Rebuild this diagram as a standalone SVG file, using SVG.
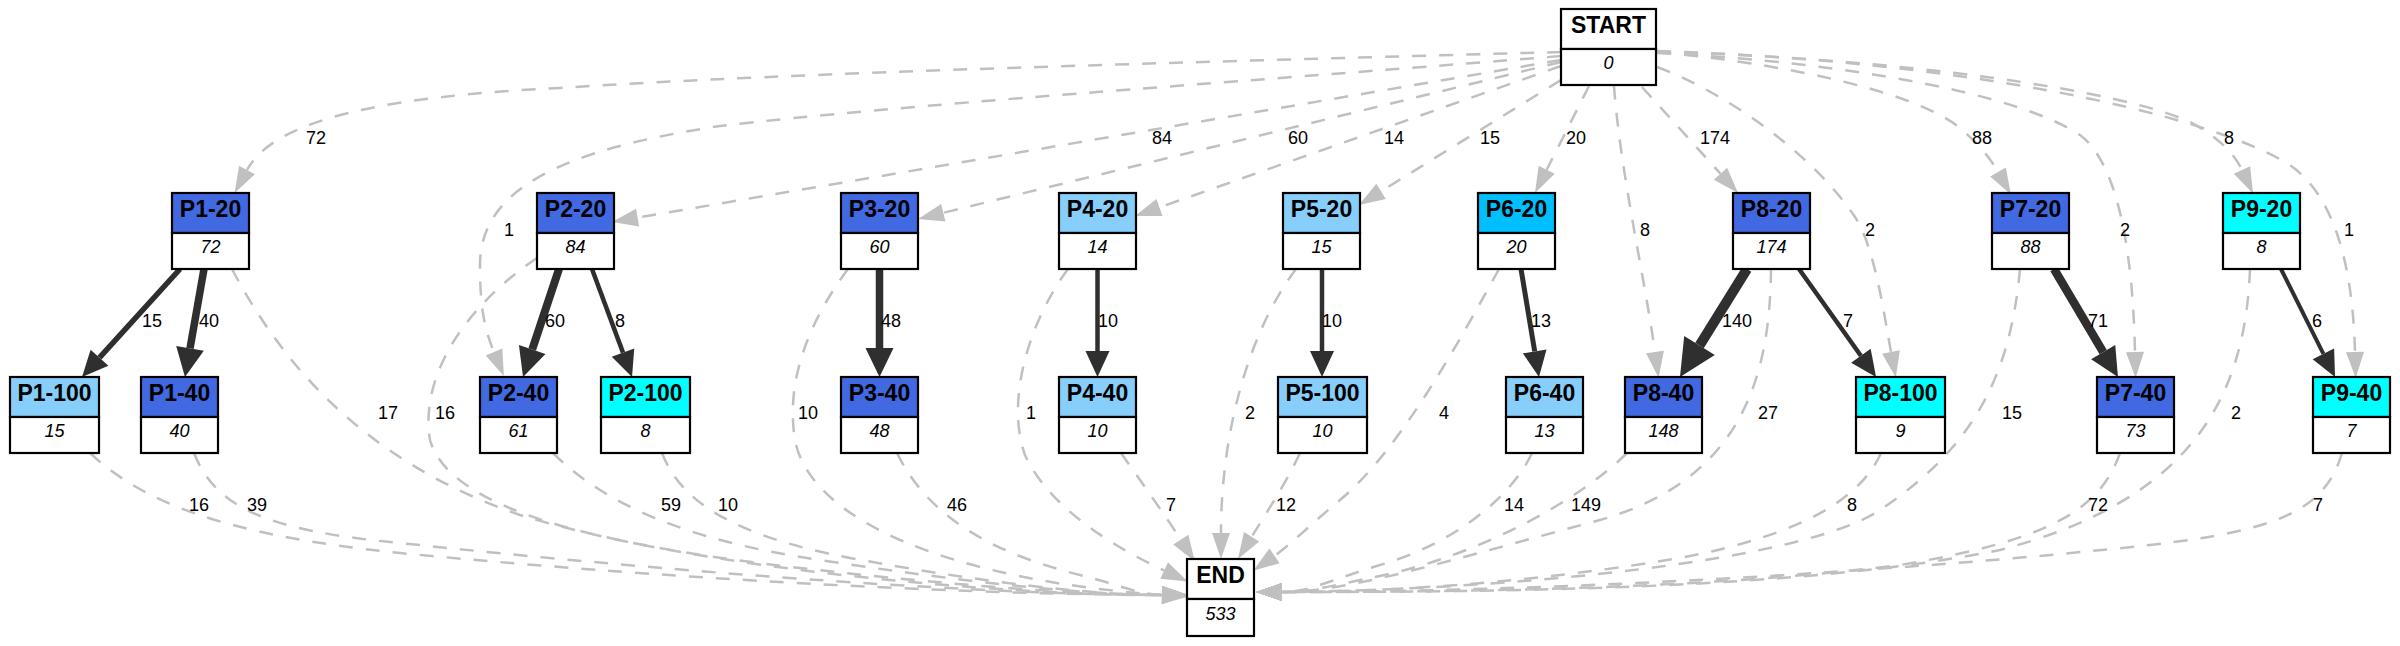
<svg xmlns="http://www.w3.org/2000/svg" width="2400" height="646" viewBox="0 0 2400 646">
<style>
.e{fill:none;stroke:#c0c0c0;stroke-width:2.5;stroke-dasharray:14,13}
.d{fill:none;stroke:#2f2f2f}
.lbl{font-family:"Liberation Sans",Arial,sans-serif;font-size:18px;fill:#000;text-anchor:middle}
.box{stroke:#000;stroke-width:2.2}
.val{fill:#fff;stroke:#000;stroke-width:2.2}
.tt{font-family:"Liberation Sans",Arial,sans-serif;font-size:23px;font-weight:bold;fill:#000;text-anchor:middle}
.tv{font-family:"Liberation Sans",Arial,sans-serif;font-size:18px;font-style:italic;fill:#000;text-anchor:middle}
</style>
<defs>
<marker id="ag" markerUnits="userSpaceOnUse" markerWidth="40" markerHeight="40" refX="0" refY="0" orient="auto" overflow="visible"><path d="M0,-9 L26,0 L0,9 z" fill="#c0c0c0"/></marker>
<marker id="d1" markerUnits="userSpaceOnUse" markerWidth="40" markerHeight="40" refX="0" refY="0" orient="auto" overflow="visible"><path d="M0,-12 L26,0 L0,12 z" fill="#2f2f2f"/></marker>
<marker id="d2" markerUnits="userSpaceOnUse" markerWidth="40" markerHeight="40" refX="0" refY="0" orient="auto" overflow="visible"><path d="M0,-14 L29,0 L0,14 z" fill="#2f2f2f"/></marker>
<marker id="d3" markerUnits="userSpaceOnUse" markerWidth="50" markerHeight="50" refX="0" refY="0" orient="auto" overflow="visible"><path d="M0,-18 L37,0 L0,18 z" fill="#2f2f2f"/></marker>
</defs>
<rect x="0" y="0" width="2400" height="646" fill="#fff"/>
<g id="connectors">
<!-- START edges -->
<path class="e" marker-end="url(#ag)" d="M1561,52 C1200,62 800,72 560,88 C390,96 275,118 247,170"/>
<path class="e" marker-end="url(#ag)" d="M1561,56 C1200,85 900,105 720,126 C560,150 480,190 480,265 C480,310 485,330 494,352"/>
<path class="e" marker-end="url(#ag)" d="M1561,60 L637.6,217.6"/>
<path class="e" marker-end="url(#ag)" d="M1561,62 L943.3,212.8"/>
<path class="e" marker-end="url(#ag)" d="M1561,66 L1159.5,207.4"/>
<path class="e" marker-end="url(#ag)" d="M1561,80 L1381.1,191.3"/>
<path class="e" marker-end="url(#ag)" d="M1589,86 L1546.7,169.8"/>
<path class="e" marker-end="url(#ag)" d="M1614,86 C1620,170 1645,280 1655,352"/>
<path class="e" marker-end="url(#ag)" d="M1642,87 L1720.5,173.7"/>
<path class="e" marker-end="url(#ag)" d="M1657,67 C1720,90 1810,150 1855,217 C1875,247 1885,320 1891,352"/>
<path class="e" marker-end="url(#ag)" d="M1657,52 C1800,65 1920,95 1960,128 C1980,145 1990,158 1998,172"/>
<path class="e" marker-end="url(#ag)" d="M1657,53 C1850,62 2020,95 2080,135 C2120,165 2133,260 2135,352"/>
<path class="e" marker-end="url(#ag)" d="M1657,52 C1900,58 2120,90 2190,122 C2220,138 2235,155 2242,170"/>
<path class="e" marker-end="url(#ag)" d="M1657,51 C1950,60 2200,110 2290,165 C2340,200 2353,280 2355,352"/>
<!-- dark edges -->
<path class="d" stroke-width="5.5" marker-end="url(#d1)" d="M180,269 L99.5,357.7"/>
<path class="d" stroke-width="7.5" marker-end="url(#d2)" d="M204,269 L190,348.4"/>
<path class="d" stroke-width="8" marker-end="url(#d2)" d="M559,269 L532.2,349.5"/>
<path class="d" stroke-width="4.5" marker-end="url(#d1)" d="M592,269 L623,352.6"/>
<path class="d" stroke-width="7.5" marker-end="url(#d2)" d="M879.5,269 L879.5,348"/>
<path class="d" stroke-width="4.5" marker-end="url(#d1)" d="M1097.5,269 L1097.5,351"/>
<path class="d" stroke-width="4.5" marker-end="url(#d1)" d="M1322,269 L1322,351"/>
<path class="d" stroke-width="5" marker-end="url(#d1)" d="M1521,269 L1534.7,351.4"/>
<path class="d" stroke-width="10" marker-end="url(#d3)" d="M1747,269 L1699.5,345.5"/>
<path class="d" stroke-width="4.5" marker-end="url(#d1)" d="M1799,269 L1860.9,355.8"/>
<path class="d" stroke-width="8.5" marker-end="url(#d2)" d="M2054,269 L2103.2,352.1"/>
<path class="d" stroke-width="4" marker-end="url(#d1)" d="M2281,269 L2323.4,353.8"/>
<!-- middle row to END -->
<path class="e" marker-end="url(#ag)" d="M232,269 C280,360 360,460 520,515 C700,570 1000,595 1162,595"/>
<path class="e" marker-end="url(#ag)" d="M537,258 C460,310 420,380 430,440 C450,510 600,545 800,568 C950,585 1080,595 1162,595"/>
<path class="e" marker-end="url(#ag)" d="M848,269 C810,320 785,380 795,440 C810,520 950,580 1162,595"/>
<path class="e" marker-end="url(#ag)" d="M1068,269 C1030,320 1005,400 1025,455 C1050,510 1120,550 1164.2,570.5"/>
<path class="e" marker-end="url(#ag)" d="M1296,269 C1250,330 1221,430 1221,533"/>
<path class="e" marker-end="url(#ag)" d="M1499,269 C1460,340 1400,450 1340,500 C1310,525 1290,545 1274.5,555.8"/>
<path class="e" marker-end="url(#ag)" d="M1771,269 C1770,380 1740,480 1600,520 C1450,560 1350,592 1282,592"/>
<path class="e" marker-end="url(#ag)" d="M2020,269 C2010,380 1970,450 1880,510 C1800,563 1500,590 1282,592"/>
<path class="e" marker-end="url(#ag)" d="M2250,269 C2245,400 2190,500 2000,550 C1800,590 1500,592 1282,592"/>
<!-- bottom row to END -->
<path class="e" marker-end="url(#ag)" d="M90,453 C140,500 220,535 400,553 C700,582 1000,595 1162,595"/>
<path class="e" marker-end="url(#ag)" d="M194,453 C215,505 260,530 400,543 C700,575 1000,595 1162,595"/>
<path class="e" marker-end="url(#ag)" d="M553,453 C600,500 680,540 820,560 C950,580 1080,595 1162,595"/>
<path class="e" marker-end="url(#ag)" d="M662,453 C680,500 730,535 850,558 C980,582 1090,595 1162,595"/>
<path class="e" marker-end="url(#ag)" d="M897,453 C925,510 980,550 1080,575 C1120,585 1140,595 1162,595"/>
<path class="e" marker-end="url(#ag)" d="M1121,453 C1140,480 1165,515 1180.8,539.7"/>
<path class="e" marker-end="url(#ag)" d="M1300,453 C1285,485 1265,515 1251.6,536.8"/>
<path class="e" marker-end="url(#ag)" d="M1532,453 C1510,500 1450,545 1380,565 C1330,580 1310,592 1282,592"/>
<path class="e" marker-end="url(#ag)" d="M1627,453 C1580,500 1480,555 1380,576 C1330,586 1310,592 1282,592"/>
<path class="e" marker-end="url(#ag)" d="M1881,453 C1860,500 1800,535 1680,558 C1500,588 1350,592 1282,592"/>
<path class="e" marker-end="url(#ag)" d="M2120,453 C2100,510 2050,540 1900,565 C1700,590 1450,592 1282,592"/>
<path class="e" marker-end="url(#ag)" d="M2342,453 C2325,510 2280,530 2150,545 C1900,572 1550,592 1282,592"/>
<!-- labels -->
<text class="lbl" x="316" y="144">72</text>
<text class="lbl" x="1162" y="144">84</text>
<text class="lbl" x="1298" y="144">60</text>
<text class="lbl" x="1394" y="144">14</text>
<text class="lbl" x="1490" y="144">15</text>
<text class="lbl" x="1576" y="144">20</text>
<text class="lbl" x="1715" y="144">174</text>
<text class="lbl" x="1982" y="144">88</text>
<text class="lbl" x="2229" y="144">8</text>
<text class="lbl" x="509" y="236">1</text>
<text class="lbl" x="1645" y="236">8</text>
<text class="lbl" x="1870" y="236">2</text>
<text class="lbl" x="2125" y="236">2</text>
<text class="lbl" x="2349" y="236">1</text>
<text class="lbl" x="152" y="327">15</text>
<text class="lbl" x="209" y="327">40</text>
<text class="lbl" x="555" y="327">60</text>
<text class="lbl" x="620" y="327">8</text>
<text class="lbl" x="891" y="327">48</text>
<text class="lbl" x="1108" y="327">10</text>
<text class="lbl" x="1332" y="327">10</text>
<text class="lbl" x="1541" y="327">13</text>
<text class="lbl" x="1737" y="327">140</text>
<text class="lbl" x="1848" y="327">7</text>
<text class="lbl" x="2098" y="327">71</text>
<text class="lbl" x="2317" y="327">6</text>
<text class="lbl" x="388" y="419">17</text>
<text class="lbl" x="445" y="419">16</text>
<text class="lbl" x="808" y="419">10</text>
<text class="lbl" x="1031" y="419">1</text>
<text class="lbl" x="1250" y="419">2</text>
<text class="lbl" x="1444" y="419">4</text>
<text class="lbl" x="1768" y="419">27</text>
<text class="lbl" x="2012" y="419">15</text>
<text class="lbl" x="2236" y="419">2</text>
<text class="lbl" x="199" y="511">16</text>
<text class="lbl" x="257" y="511">39</text>
<text class="lbl" x="671" y="511">59</text>
<text class="lbl" x="728" y="511">10</text>
<text class="lbl" x="957" y="511">46</text>
<text class="lbl" x="1171" y="511">7</text>
<text class="lbl" x="1286" y="511">12</text>
<text class="lbl" x="1514" y="511">14</text>
<text class="lbl" x="1586" y="511">149</text>
<text class="lbl" x="1852" y="511">8</text>
<text class="lbl" x="2098" y="511">72</text>
<text class="lbl" x="2318" y="511">7</text>
</g>
<g id="START"><rect class="box" x="1561" y="9" width="95" height="40" fill="#fff"/><rect class="val" x="1561" y="49" width="95" height="36"/><text class="tt" x="1608.5" y="33">START</text><text class="tv" x="1608.5" y="69">0</text></g>
<g id="P1-20"><rect class="box" x="172" y="193" width="77" height="40" fill="#4169e1"/><rect class="val" x="172" y="233" width="77" height="36"/><text class="tt" x="210.5" y="217">P1-20</text><text class="tv" x="210.5" y="253">72</text></g>
<g id="P2-20"><rect class="box" x="537" y="193" width="77" height="40" fill="#4169e1"/><rect class="val" x="537" y="233" width="77" height="36"/><text class="tt" x="575.5" y="217">P2-20</text><text class="tv" x="575.5" y="253">84</text></g>
<g id="P3-20"><rect class="box" x="841" y="193" width="77" height="40" fill="#4169e1"/><rect class="val" x="841" y="233" width="77" height="36"/><text class="tt" x="879.5" y="217">P3-20</text><text class="tv" x="879.5" y="253">60</text></g>
<g id="P4-20"><rect class="box" x="1059" y="193" width="77" height="40" fill="#87cefa"/><rect class="val" x="1059" y="233" width="77" height="36"/><text class="tt" x="1097.5" y="217">P4-20</text><text class="tv" x="1097.5" y="253">14</text></g>
<g id="P5-20"><rect class="box" x="1283" y="193" width="77" height="40" fill="#87cefa"/><rect class="val" x="1283" y="233" width="77" height="36"/><text class="tt" x="1321.5" y="217">P5-20</text><text class="tv" x="1321.5" y="253">15</text></g>
<g id="P6-20"><rect class="box" x="1478" y="193" width="77" height="40" fill="#00bfff"/><rect class="val" x="1478" y="233" width="77" height="36"/><text class="tt" x="1516.5" y="217">P6-20</text><text class="tv" x="1516.5" y="253">20</text></g>
<g id="P8-20"><rect class="box" x="1733" y="193" width="77" height="40" fill="#4169e1"/><rect class="val" x="1733" y="233" width="77" height="36"/><text class="tt" x="1771.5" y="217">P8-20</text><text class="tv" x="1771.5" y="253">174</text></g>
<g id="P7-20"><rect class="box" x="1992" y="193" width="77" height="40" fill="#4169e1"/><rect class="val" x="1992" y="233" width="77" height="36"/><text class="tt" x="2030.5" y="217">P7-20</text><text class="tv" x="2030.5" y="253">88</text></g>
<g id="P9-20"><rect class="box" x="2223" y="193" width="77" height="40" fill="#00ffff"/><rect class="val" x="2223" y="233" width="77" height="36"/><text class="tt" x="2261.5" y="217">P9-20</text><text class="tv" x="2261.5" y="253">8</text></g>
<g id="P1-100"><rect class="box" x="10" y="377" width="89" height="40" fill="#87cefa"/><rect class="val" x="10" y="417" width="89" height="36"/><text class="tt" x="54.5" y="401">P1-100</text><text class="tv" x="54.5" y="437">15</text></g>
<g id="P1-40"><rect class="box" x="141" y="377" width="77" height="40" fill="#4169e1"/><rect class="val" x="141" y="417" width="77" height="36"/><text class="tt" x="179.5" y="401">P1-40</text><text class="tv" x="179.5" y="437">40</text></g>
<g id="P2-40"><rect class="box" x="480" y="377" width="77" height="40" fill="#4169e1"/><rect class="val" x="480" y="417" width="77" height="36"/><text class="tt" x="518.5" y="401">P2-40</text><text class="tv" x="518.5" y="437">61</text></g>
<g id="P2-100"><rect class="box" x="601" y="377" width="89" height="40" fill="#00ffff"/><rect class="val" x="601" y="417" width="89" height="36"/><text class="tt" x="645.5" y="401">P2-100</text><text class="tv" x="645.5" y="437">8</text></g>
<g id="P3-40"><rect class="box" x="841" y="377" width="77" height="40" fill="#4169e1"/><rect class="val" x="841" y="417" width="77" height="36"/><text class="tt" x="879.5" y="401">P3-40</text><text class="tv" x="879.5" y="437">48</text></g>
<g id="P4-40"><rect class="box" x="1059" y="377" width="77" height="40" fill="#87cefa"/><rect class="val" x="1059" y="417" width="77" height="36"/><text class="tt" x="1097.5" y="401">P4-40</text><text class="tv" x="1097.5" y="437">10</text></g>
<g id="P5-100"><rect class="box" x="1278" y="377" width="89" height="40" fill="#87cefa"/><rect class="val" x="1278" y="417" width="89" height="36"/><text class="tt" x="1322.5" y="401">P5-100</text><text class="tv" x="1322.5" y="437">10</text></g>
<g id="P6-40"><rect class="box" x="1506" y="377" width="77" height="40" fill="#87cefa"/><rect class="val" x="1506" y="417" width="77" height="36"/><text class="tt" x="1544.5" y="401">P6-40</text><text class="tv" x="1544.5" y="437">13</text></g>
<g id="P8-40"><rect class="box" x="1625" y="377" width="77" height="40" fill="#4169e1"/><rect class="val" x="1625" y="417" width="77" height="36"/><text class="tt" x="1663.5" y="401">P8-40</text><text class="tv" x="1663.5" y="437">148</text></g>
<g id="P8-100"><rect class="box" x="1856" y="377" width="89" height="40" fill="#00ffff"/><rect class="val" x="1856" y="417" width="89" height="36"/><text class="tt" x="1900.5" y="401">P8-100</text><text class="tv" x="1900.5" y="437">9</text></g>
<g id="P7-40"><rect class="box" x="2097" y="377" width="77" height="40" fill="#4169e1"/><rect class="val" x="2097" y="417" width="77" height="36"/><text class="tt" x="2135.5" y="401">P7-40</text><text class="tv" x="2135.5" y="437">73</text></g>
<g id="P9-40"><rect class="box" x="2313" y="377" width="77" height="40" fill="#00ffff"/><rect class="val" x="2313" y="417" width="77" height="36"/><text class="tt" x="2351.5" y="401">P9-40</text><text class="tv" x="2351.5" y="437">7</text></g>
<g id="END"><rect class="box" x="1187" y="559" width="67" height="40" fill="#fff"/><rect class="val" x="1187" y="599" width="67" height="37"/><text class="tt" x="1220.5" y="583">END</text><text class="tv" x="1220.5" y="620">533</text></g>
</svg>
